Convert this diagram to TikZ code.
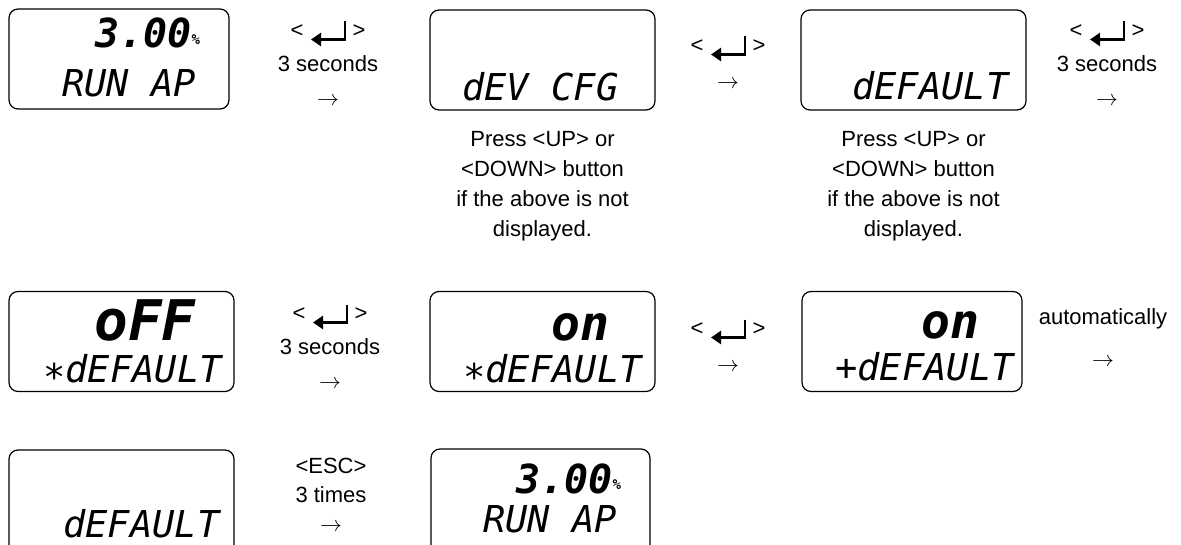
\documentclass[tikz,border=0pt]{standalone}
\usepackage{fontspec}
\setmainfont{Liberation Sans}
\newfontfamily\lcdfont{DejaVu Sans Mono}
\usetikzlibrary{positioning,arrows.meta}

\newcommand{\enterglyph}{\tikz[x=1pt,y=1pt,baseline=0.8pt]\draw[line width=1.4pt,-{Triangle[length=5pt,width=6.5pt]}] (17,9) -- (17,0) -- (0,0);}
\newcommand{\enterkey}{<\;\enterglyph\;>}
\newcommand{\lcdstar}{\raisebox{-0.22em}{*}}
\newcommand{\lcdpct}{{\fontsize{7}{7}\selectfont\raisebox{0.25em}{\%}}}

\begin{document}
\begin{tikzpicture}[
    x=0.5pt, y=-0.5pt,
    node distance=10pt,
    lcdbox/.style={rectangle, draw=black, line width=0.6pt, rounded corners=4.5pt, minimum height=50pt, inner sep=0pt},
    lcdtext/.style={anchor=base west, inner sep=0pt, font=\lcdfont\itshape\fontsize{18.5}{18.5}\selectfont},
    lcdbig/.style={lcdtext, font=\lcdfont\bfseries\itshape\fontsize{#1}{#1}\selectfont},
    keylabel/.style={align=center, inner sep=0pt, font=\fontsize{11}{17}\selectfont},
    hint/.style={align=center, inner sep=0pt, font=\fontsize{11}{15}\selectfont}
]
\useasboundingbox (0,0) rectangle (1181,545);
\clip (0,0) rectangle (1181,545);

% first row
\node[lcdbox, minimum width=110pt] (run) at (119,59) {};
\node[lcdbig=20] (runtop) at (95,48) {3.00\lcdpct};
\node[lcdtext] (runbot) at (62,97) {RUN AP};

\node[keylabel] (hold1) at (328,63) {\enterkey\\3 seconds\\$\rightarrow$};

\node[lcdbox, minimum width=112.5pt] (devcfg) at (542.5,60) {};
\node[lcdtext] (devcfgbot) at (462,101) {dEV CFG};
\node[hint, below=10pt of devcfg] (hint1) {Press <UP> or\\<DOWN> button\\if the above is not\\displayed.};

\node[keylabel, align=center] (push1) at (728,62) {\enterkey\\[1pt]$\rightarrow$};

\node[lcdbox, minimum width=112.5pt] (default) at (913.5,60) {};
\node[lcdtext] (defaultbot) at (852,100) {dEFAULT};
\node[hint, below=10pt of default] (hint2) {Press <UP> or\\<DOWN> button\\if the above is not\\displayed.};

\node[keylabel] (hold2) at (1107,63) {\enterkey\\3 seconds\\$\rightarrow$};

% second row
\node[lcdbox, minimum width=112.5pt] (off) at (121.5,341.5) {};
\node[lcdbig=28] (offtop) at (94,340) {oFF};
\node[lcdtext] (offbot) at (43,382) {\lcdstar dEFAULT};

\node[keylabel] (hold3) at (330,346) {\enterkey\\3 seconds\\$\rightarrow$};

\node[lcdbox, minimum width=112.5pt] (on) at (542.5,341.5) {};
\node[lcdbig=24] (ontop) at (551,340) {on};
\node[lcdtext] (onbot) at (463,382) {\lcdstar dEFAULT};

\node[keylabel] (push2) at (728,345) {\enterkey\\[1pt]$\rightarrow$};

\node[lcdbox, minimum width=110pt] (saved) at (912,341.5) {};
\node[lcdbig=24] (savedtop) at (921,338) {on};
\node[lcdtext] (savedbot) at (835,380) {+dEFAULT};

\node[keylabel] (auto) at (1103,338) {automatically\\[4pt]$\rightarrow$};

% third row
\node[lcdbox, minimum width=112.5pt, minimum height=55pt] (back) at (121.5,505) {};
\node[lcdtext] (backbot) at (63,537) {dEFAULT};

\node[keylabel, font=\fontsize{11}{14.5}\selectfont] (esc) at (331,495) {<ESC>\\3 times\\$\rightarrow$};

\node[lcdbox, minimum width=109.5pt, minimum height=55pt] (runagain) at (540.5,504) {};
\node[lcdbig=20] (runagaintop) at (516,493) {3.00\lcdpct};
\node[lcdtext] (runagainbot) at (483,532) {RUN AP};

\end{tikzpicture}
\end{document}
